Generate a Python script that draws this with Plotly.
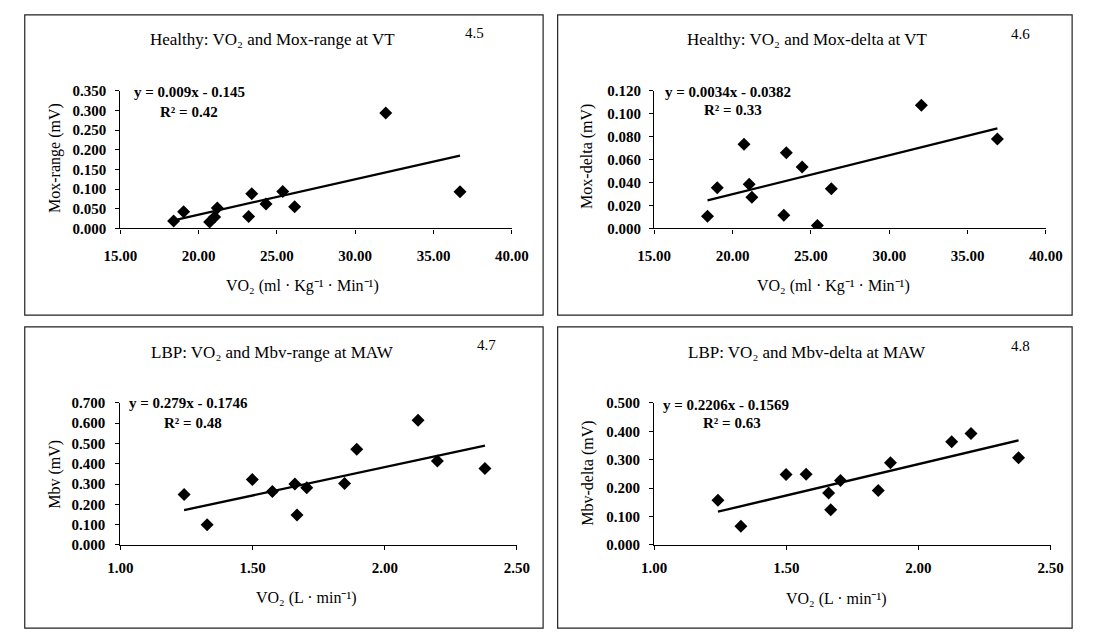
import plotly.graph_objects as go

W, H = 1093, 640

# ---------------- data ----------------
healthy_vo2_range = [18.40, 19.04, 20.70, 21.02, 21.19, 23.19, 23.39, 24.30, 25.37, 26.13, 31.95, 36.69]
mox_range = [0.019, 0.042, 0.016, 0.029, 0.052, 0.030, 0.088, 0.062, 0.094, 0.055, 0.294, 0.093]

healthy_vo2_delta = [18.40, 19.02, 20.73, 21.06, 21.23, 23.27, 23.43, 24.44, 25.41, 26.30, 32.05, 36.90]
mox_delta = [0.0105, 0.0355, 0.0735, 0.0385, 0.0272, 0.0115, 0.0660, 0.0535, 0.0025, 0.0345, 0.1075, 0.0780]

lbp_vo2 = [1.241, 1.328, 1.499, 1.575, 1.660, 1.668, 1.705, 1.848, 1.894, 2.126, 2.199, 2.379]
mbv_range = [0.248, 0.099, 0.322, 0.263, 0.300, 0.147, 0.282, 0.303, 0.472, 0.614, 0.413, 0.377]
mbv_delta = [0.157, 0.066, 0.248, 0.249, 0.183, 0.124, 0.227, 0.192, 0.289, 0.363, 0.392, 0.307]

# trendline coefficients as printed on the chart
fits = [(0.009, -0.145), (0.0034, -0.0382), (0.279, -0.1746), (0.2206, -0.1569)]
eq_texts = ["y = 0.009x - 0.145", "y = 0.0034x - 0.0382", "y = 0.279x - 0.1746", "y = 0.2206x - 0.1569"]
r2_texts = ["R² = 0.42", "R² = 0.33", "R² = 0.48", "R² = 0.63"]

titles = ["Healthy: VO₂ and Mox-range at VT",
          "Healthy: VO₂ and Mox-delta at VT",
          "LBP: VO₂ and Mbv-range at MAW",
          "LBP: VO₂ and Mbv-delta at MAW"]
numbers = ["4.5", "4.6", "4.7", "4.8"]
ytitles = ["Mox-range (mV)", "Mox-delta (mV)", "Mbv (mV)", "Mbv-delta (mV)"]
xtitle_h = "VO₂ (ml · Kg⁻¹ · Min⁻¹)"
xtitle_l = "VO₂ (L · min⁻¹)"
xtitles = [xtitle_h, xtitle_h, xtitle_l, xtitle_l]

xranges = [[15, 40], [15, 40], [1, 2.5], [1, 2.5]]
yranges = [[0, 0.35], [0, 0.12], [0, 0.7], [0, 0.5]]
xdticks = [5, 5, 0.5, 0.5]
ydticks = [0.05, 0.02, 0.1, 0.1]

series = [(healthy_vo2_range, mox_range), (healthy_vo2_delta, mox_delta),
          (lbp_vo2, mbv_range), (lbp_vo2, mbv_delta)]

# ---------------- layout geometry (pixels) ----------------
plot_px = [  # x0, x1, ytop, ybottom
    (106.7, 510.7, 85, 226),
    (657.7, 1062.0, 85, 226),
    (106.7, 516.0, 405, 550.7),
    (657.7, 1066.7, 405, 550.7),
]
x_standoff = [9, 9, 5, 5]
y_standoff = [6, 5, 7, 6]
boxes_px = [(8, 7, 543, 315), (558, 7, 1089, 315), (8, 327, 543, 636), (558, 327, 1089, 636)]
title_pos = [(264, 32), (816, 32), (264, 353), (815, 353)]
num_pos = [(472, 26), (1036, 27), (485, 346), (1036, 347)]
ytitle_pos = [(39, 154), (589, 152), (39, 478), (589, 477)]
xtitle_pos = [(295, 285), (843, 285), (299, 605), (846, 606)]
eq_pos = [(119, 86), (667, 86), (114, 405), (665, 407)]
r2_pos = [(146, 107), (707, 105), (150, 426), (706, 426)]


def px(x, y):
    return x / W, 1 - y / H


FONT = "Liberation Serif, Times New Roman, serif"
fig = go.Figure()
annotations = []
shapes = []


def ann(text, pos, size, bold=False, xanchor="center", angle=0):
    x, y = px(*pos)
    annotations.append(dict(text=text, x=x, y=y, xref="paper", yref="paper",
                            xanchor=xanchor, yanchor="middle", showarrow=False,
                            textangle=angle,
                            font=dict(family=FONT, size=size, color="black",
                                      weight="bold" if bold else "normal")))


for i in range(4):
    sfx = "" if i == 0 else str(i + 1)
    xs, ys = series[i]
    fig.add_trace(go.Scatter(x=xs, y=ys, mode="markers", xaxis="x" + sfx, yaxis="y" + sfx,
                             marker=dict(symbol="diamond", size=10, color="black"),
                             showlegend=False))
    m, b = fits[i]
    xmin, xmax = min(xs), max(xs)
    fig.add_trace(go.Scatter(x=[xmin, xmax], y=[m * xmin + b, m * xmax + b], mode="lines",
                             xaxis="x" + sfx, yaxis="y" + sfx,
                             line=dict(color="black", width=2.3), showlegend=False))
    x0, x1, yt, yb = plot_px[i]
    ax = dict(domain=[x0 / W, x1 / W], range=xranges[i], dtick=xdticks[i], tick0=xranges[i][0],
              tickformat=".2f", showgrid=False, zeroline=False, showline=True,
              linecolor="black", linewidth=1.3, ticks="outside", ticklen=4, tickcolor="black",
              ticklabelstandoff=x_standoff[i],
              tickfont=dict(family=FONT, size=15, color="black", weight="bold"),
              anchor="y" + sfx, fixedrange=True)
    ay = dict(domain=[1 - yb / H, 1 - yt / H], range=yranges[i], dtick=ydticks[i], tick0=0,
              tickformat=".3f", showgrid=False, zeroline=False, showline=True,
              linecolor="black", linewidth=1.3, ticks="outside", ticklen=4, tickcolor="black",
              ticklabelstandoff=y_standoff[i],
              tickfont=dict(family=FONT, size=15, color="black", weight="bold"),
              anchor="x" + sfx, fixedrange=True)
    fig.layout["xaxis" + sfx] = ax
    fig.layout["yaxis" + sfx] = ay

    bx0, by0, bx1, by1 = boxes_px[i]
    shapes.append(dict(type="rect", xref="paper", yref="paper",
                       x0=bx0 / W, x1=bx1 / W, y0=1 - by1 / H, y1=1 - by0 / H,
                       line=dict(color="#222", width=1.2)))

    ann(titles[i], title_pos[i], 17)
    ann(numbers[i], num_pos[i], 15)
    ann(ytitles[i], ytitle_pos[i], 16, angle=-90)
    ann(xtitles[i], xtitle_pos[i], 16)
    ann(eq_texts[i], eq_pos[i], 15, bold=True, xanchor="left")
    ann(r2_texts[i], r2_pos[i], 15, bold=True, xanchor="left")

fig.update_layout(width=W, height=H, autosize=False,
                  margin=dict(l=0, r=0, t=0, b=0),
                  paper_bgcolor="white", plot_bgcolor="white",
                  annotations=annotations, shapes=shapes, showlegend=False)

fig.write_html("out.html", config={"displayModeBar": False},
               post_script="document.body.style.margin='0';document.body.style.overflow='hidden';")
